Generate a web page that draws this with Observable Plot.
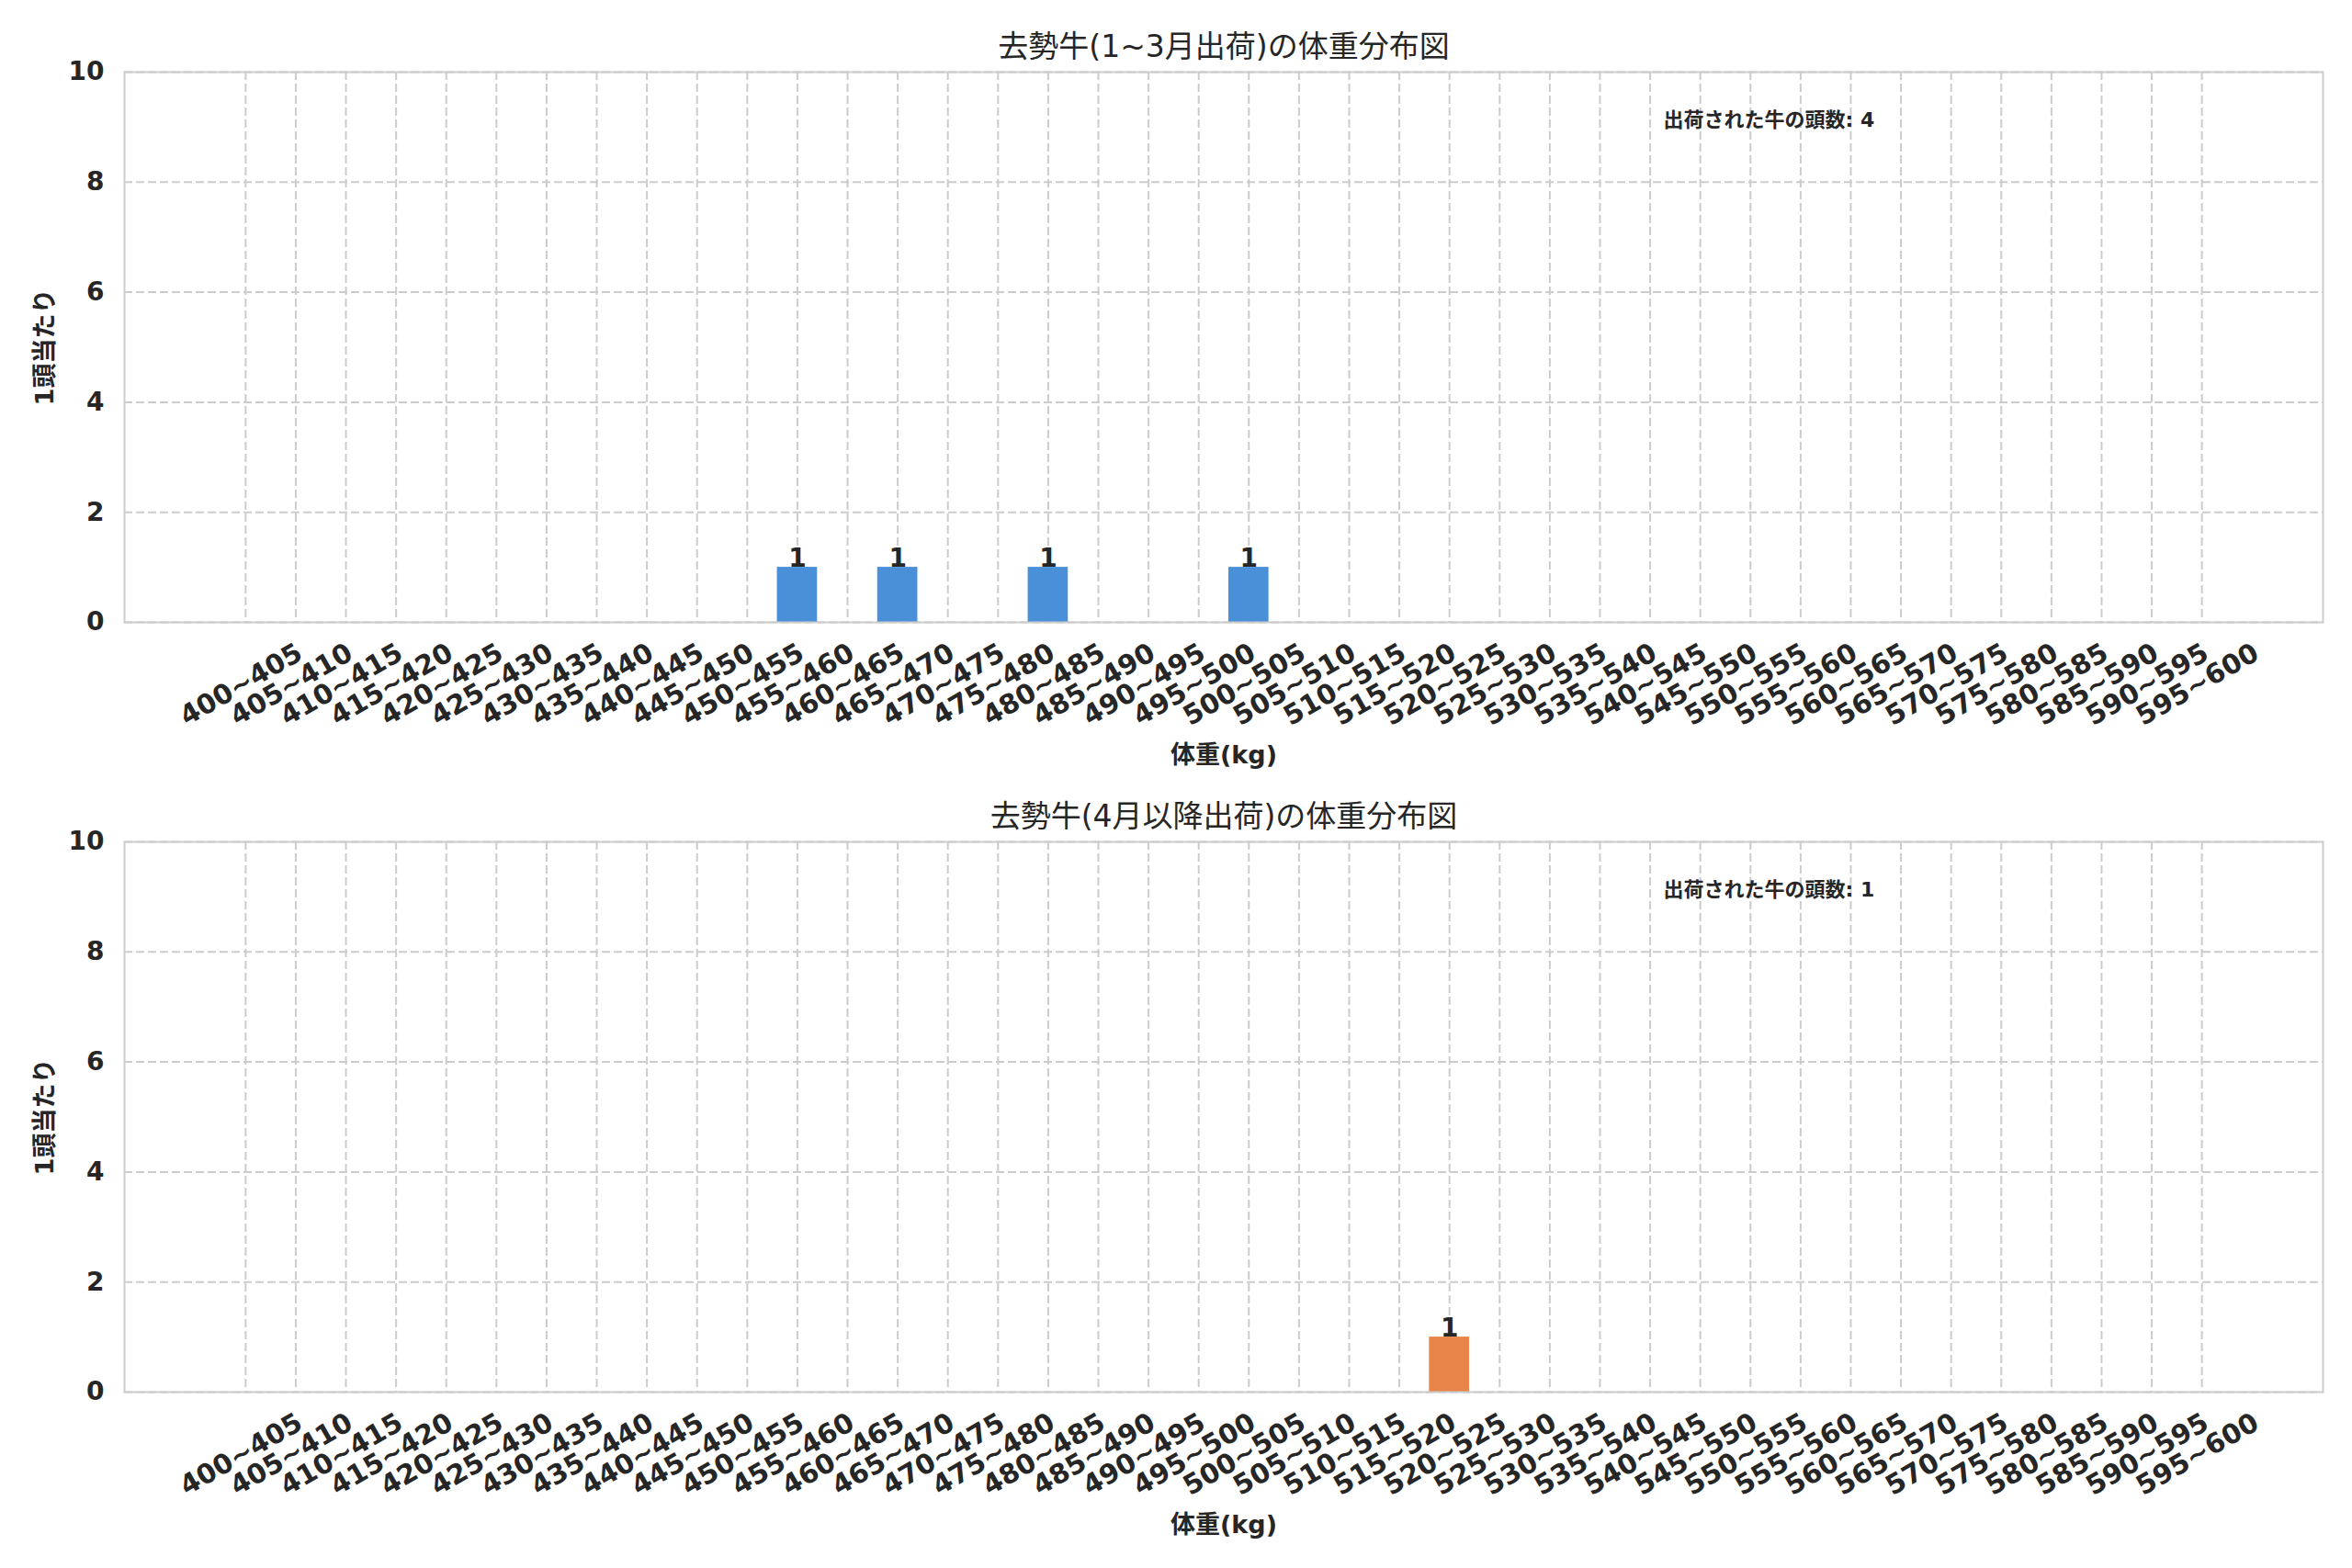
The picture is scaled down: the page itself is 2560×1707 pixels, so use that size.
<!DOCTYPE html>
<html>
<head>
<meta charset="utf-8">
<script src="https://cdn.jsdelivr.net/npm/d3@7"></script>
<script src="https://cdn.jsdelivr.net/npm/@observablehq/plot@0.6"></script>
<style>
  html, body { margin: 0; padding: 0; background: #ffffff; }
  #chart { width: 2560px; }
  #chart svg { display: block; }
</style>
</head>
<body>
<div id="chart"></div>
<script>
// ---- data ----
const categories = [
  "400~405","405~410","410~415","415~420","420~425","425~430","430~435","435~440",
  "440~445","445~450","450~455","455~460","460~465","465~470","470~475","475~480",
  "480~485","485~490","490~495","495~500","500~505","505~510","510~515","515~520",
  "520~525","525~530","530~535","535~540","540~545","545~550","550~555","555~560",
  "560~565","565~570","570~575","575~580","580~585","585~590","590~595","595~600"
];
const countsEarly = [
  0,0,0,0,0,0,0,0,
  0,0,0,1,0,1,0,0,
  1,0,0,0,1,0,0,0,
  0,0,0,0,0,0,0,0,
  0,0,0,0,0,0,0,0
];
const countsLate = [
  0,0,0,0,0,0,0,0,
  0,0,0,0,0,0,0,0,
  0,0,0,0,0,0,0,0,
  1,0,0,0,0,0,0,0,
  0,0,0,0,0,0,0,0
];
const yTicks = [0, 2, 4, 6, 8, 10];
const titles = ["去勢牛(1~3月出荷)の体重分布図", "去勢牛(4月以降出荷)の体重分布図"];
const totalLabels = ["出荷された牛の頭数: 4", "出荷された牛の頭数: 1"];
const xLabel = "体重(kg)";
const yLabel = "1頭当たり";
const colors = ["#4A90D9", "#E8844A"];

// ---- drawing ----
const FONT = '"DejaVu Sans", "Noto Sans CJK JP", sans-serif';
const TEXT = "#262626";
const GRID = "#cccccc";
const W = 2560, ML = 135, MR = 32, MT = 78;
const plotW = W - ML - MR;

function panel(counts, color, title, annot, height, marginBottom) {
  const data = categories.map((c, i) => ({bin: c, count: counts[i]}));
  return Plot.plot({
    width: W,
    height,
    marginTop: MT,
    marginLeft: ML,
    marginRight: MR,
    marginBottom,
    style: {fontFamily: FONT, color: TEXT, background: "#ffffff", overflow: "visible"},
    x: {type: "band", domain: categories, paddingInner: 0.2, paddingOuter: 2.015, round: false, axis: null},
    y: {domain: [0, 10], axis: null},
    marks: [
      Plot.ruleX(categories, {x: d => d, stroke: GRID, strokeWidth: 2, strokeDasharray: "9,4"}),
      Plot.ruleY(yTicks, {y: d => d, stroke: GRID, strokeWidth: 2, strokeDasharray: "9,4"}),
      Plot.barY(data, {x: "bin", y: "count", fill: color}),
      Plot.frame({stroke: GRID, strokeWidth: 2}),
      Plot.text(data, {
        filter: d => d.count > 0,
        x: "bin", y: "count", text: d => String(d.count),
        lineAnchor: "bottom", dy: -1, fontSize: 28, fontWeight: "bold", fill: TEXT
      }),
      Plot.axisY({ticks: yTicks, tickSize: 0, tickPadding: 22, fontSize: 28, fontWeight: "bold", label: null, fill: TEXT}),
      Plot.text(categories, {
        x: d => d, text: d => d, frameAnchor: "bottom", dy: 76,
        rotate: -30, textAnchor: "middle", fontSize: 29.5, fontWeight: "bold", fill: TEXT
      }),
      Plot.text([xLabel], {text: d => d, frameAnchor: "bottom", dy: 153, textAnchor: "middle", fontSize: 27, fontWeight: "bold", fill: TEXT}),
      Plot.text([yLabel], {text: d => d, frameAnchor: "left", dx: -86, rotate: -90, textAnchor: "middle", fontSize: 27, fontWeight: "bold", fill: TEXT}),
      Plot.text([title], {text: d => d, frameAnchor: "top", dy: -40, textAnchor: "middle", fontSize: 33, fill: TEXT}),
      Plot.text([annot], {
        text: d => d, frameAnchor: "top-left", dx: Math.round(0.7 * plotW), dy: 44,
        textAnchor: "start", fontSize: 22, fontWeight: "bold", fill: TEXT
      })
    ]
  });
}

const chart = document.getElementById("chart");
chart.append(panel(countsEarly, colors[0], titles[0], totalLabels[0], 838, 161));
chart.append(panel(countsLate, colors[1], titles[1], totalLabels[1], 869, 192));
</script>
</body>
</html>
